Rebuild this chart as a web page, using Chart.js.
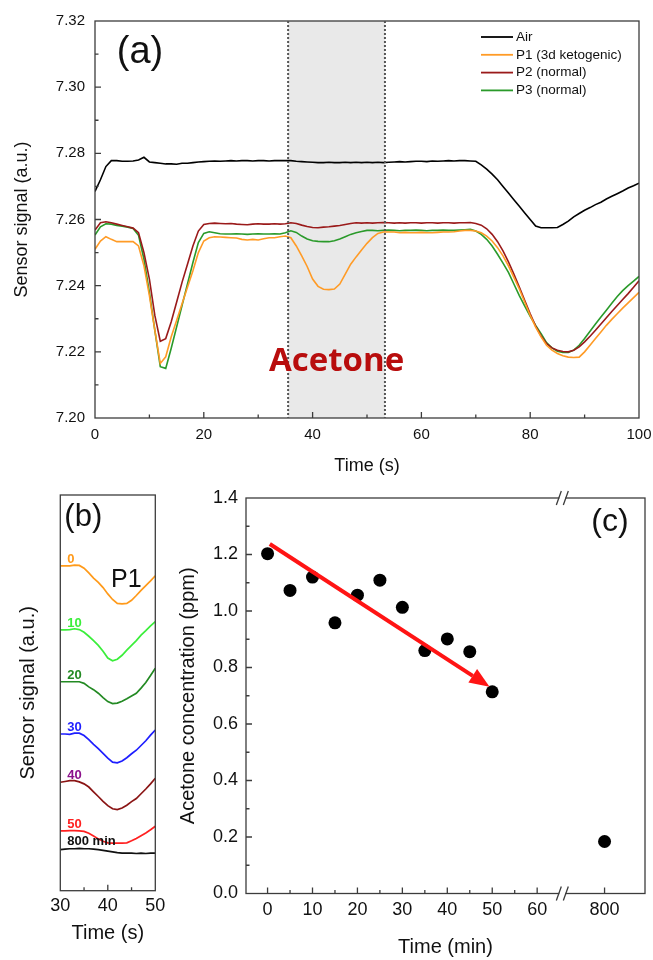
<!DOCTYPE html>
<html>
<head>
<meta charset="utf-8">
<script src="https://cdn.jsdelivr.net/npm/chart.js@4.4.0/dist/chart.umd.min.js"></script>
<style>
  body { margin: 0; background: #fff; }
  #wrap { position: relative; width: 653px; height: 960px; overflow: hidden; }
  canvas { position: absolute; }
  #chartA { left: 0; top: 0; }
  #chartB { left: 0; top: 470px; }
  #chartC { left: 170px; top: 470px; }
</style>
</head>
<body>
<div id="wrap">
  <canvas id="chartA" width="653" height="480"></canvas>
  <canvas id="chartB" width="170" height="490"></canvas>
  <canvas id="chartC" width="483" height="490"></canvas>
</div>
<script>
// ---- panel (a): sensor signal vs time ----
const aTime = [0,1,2,3,4,5,6,7,8,9,10,11,12,13,14,15,16,17,18,19,20,21,22,23,24,25,26,27,28,29,30,31,32,33,34,35,36,37,38,39,40,41,42,43,44,45,46,47,48,49,50,51,52,53,54,55,56,57,58,59,60,61,62,63,64,65,66,67,68,69,70,71,72,73,74,75,76,77,78,79,80,81,82,83,84,85,86,87,88,89,90,91,92,93,94,95,96,97,98,99,100];
const airSignal = [
  7.2685,7.2720,7.2760,7.2778,7.2778,7.2776,7.2776,7.2777,7.2780,7.2788,
  7.2774,7.2772,7.2770,7.2768,7.2768,7.2767,7.2770,7.2770,7.2772,7.2774,
  7.2775,7.2776,7.2777,7.2776,7.2777,7.2778,7.2777,7.2778,7.2778,7.2777,
  7.2778,7.2778,7.2777,7.2778,7.2778,7.2778,7.2778,7.2776,7.2775,7.2774,
  7.2773,7.2772,7.2772,7.2773,7.2772,7.2772,7.2773,7.2772,7.2773,7.2772,
  7.2773,7.2772,7.2773,7.2772,7.2773,7.2774,7.2775,7.2774,7.2775,7.2776,
  7.2776,7.2775,7.2777,7.2776,7.2777,7.2778,7.2777,7.2778,7.2778,7.2777,
  7.2776,7.2765,7.2752,7.2737,7.2720,7.2700,7.2680,7.2660,7.2640,7.2620,
  7.2600,7.2580,7.2575,7.2575,7.2575,7.2576,7.2585,7.2595,7.2608,7.2618,
  7.2628,7.2636,7.2645,7.2652,7.2662,7.2670,7.2678,7.2686,7.2695,7.2702,
  7.2710];
const p1Signal = [
  7.2510,7.2535,7.2548,7.2540,7.2533,7.2533,7.2533,7.2533,7.2520,7.2460,
  7.2370,7.2265,7.2165,7.2185,7.2245,7.2295,7.2345,7.2395,7.2445,7.2500,
  7.2535,7.2545,7.2548,7.2547,7.2546,7.2545,7.2544,7.2540,7.2538,7.2540,
  7.2538,7.2542,7.2545,7.2545,7.2548,7.2550,7.2545,7.2520,7.2490,7.2458,
  7.2420,7.2398,7.2389,7.2388,7.2390,7.2405,7.2435,7.2465,7.2487,7.2508,
  7.2528,7.2545,7.2558,7.2562,7.2562,7.2562,7.2560,7.2561,7.2560,7.2560,
  7.2561,7.2560,7.2560,7.2561,7.2562,7.2562,7.2563,7.2565,7.2567,7.2567,
  7.2565,7.2560,7.2550,7.2535,7.2515,7.2490,7.2460,7.2425,7.2390,7.2350,
  7.2310,7.2275,7.2245,7.2220,7.2205,7.2195,7.2188,7.2184,7.2183,7.2184,
  7.2200,7.2220,7.2240,7.2260,7.2280,7.2298,7.2315,7.2332,7.2348,7.2364,
  7.2380];
const p2Signal = [
  7.2568,7.2590,7.2593,7.2590,7.2586,7.2582,7.2578,7.2574,7.2560,7.2500,
  7.2420,7.2310,7.2232,7.2240,7.2290,7.2350,7.2410,7.2465,7.2520,7.2565,
  7.2585,7.2588,7.2589,7.2588,7.2587,7.2588,7.2586,7.2585,7.2584,7.2586,
  7.2587,7.2586,7.2586,7.2587,7.2586,7.2587,7.2590,7.2588,7.2583,7.2579,
  7.2576,7.2575,7.2577,7.2578,7.2580,7.2582,7.2585,7.2588,7.2590,7.2589,
  7.2590,7.2589,7.2590,7.2591,7.2590,7.2589,7.2590,7.2589,7.2590,7.2590,
  7.2589,7.2590,7.2590,7.2589,7.2590,7.2590,7.2589,7.2590,7.2590,7.2591,
  7.2588,7.2583,7.2572,7.2555,7.2533,7.2505,7.2472,7.2435,7.2396,7.2355,
  7.2315,7.2278,7.2248,7.2225,7.2212,7.2205,7.2201,7.2200,7.2205,7.2215,
  7.2230,7.2247,7.2265,7.2284,7.2303,7.2322,7.2340,7.2358,7.2376,7.2395,
  7.2415];
const p3Signal = [
  7.2553,7.2578,7.2587,7.2586,7.2582,7.2580,7.2577,7.2573,7.2552,7.2480,
  7.2380,7.2265,7.2155,7.2150,7.2210,7.2275,7.2340,7.2405,7.2470,7.2530,
  7.2558,7.2563,7.2560,7.2557,7.2556,7.2556,7.2557,7.2556,7.2555,7.2556,
  7.2557,7.2556,7.2556,7.2557,7.2556,7.2560,7.2566,7.2561,7.2550,7.2541,
  7.2536,7.2534,7.2533,7.2533,7.2536,7.2541,7.2548,7.2555,7.2560,7.2564,
  7.2567,7.2567,7.2566,7.2567,7.2568,7.2567,7.2566,7.2567,7.2567,7.2568,
  7.2567,7.2566,7.2567,7.2567,7.2568,7.2567,7.2567,7.2568,7.2569,7.2570,
  7.2565,7.2555,7.2540,7.2520,7.2495,7.2468,7.2440,7.2405,7.2370,7.2338,
  7.2307,7.2280,7.2255,7.2228,7.2212,7.2202,7.2198,7.2198,7.2205,7.2220,
  7.2240,7.2262,7.2284,7.2305,7.2326,7.2347,7.2367,7.2385,7.2400,7.2414,
  7.2428];
const aLabels = ['Air', 'P1 (3d ketogenic)', 'P2 (normal)', 'P3 (normal)'];
const aColors = ['#000000', '#ff9b26', '#9a1a1a', '#2a9a2a'];
const acetoneWindow = [35.5, 53.3];

// ---- panel (b): P1 response vs elapsed time (offset traces) ----
const bTime = [30,31,32,33,34,35,36,37,38,39,40,41,42,43,44,45,46,47,48,49,50];
const b0 = [82.1,82.1,82.1,82.3,82.2,81.5,80.3,79.0,77.9,76.6,75.0,73.6,72.6,72.5,72.6,73.4,74.6,75.9,77.1,78.3,79.6];
const b10 = [65.9,65.9,66.0,66.2,66.0,65.3,64.3,63.2,62.0,60.5,58.8,58.1,58.5,59.5,60.8,62.0,63.2,64.6,65.7,66.9,68.0];
const b20 = [52.8,52.8,52.8,52.8,52.8,52.4,51.5,50.8,49.9,48.8,47.8,47.3,47.4,47.9,48.5,49.2,49.9,51.2,52.6,54.4,56.2];
const b30 = [39.6,39.6,39.5,39.8,39.8,39.2,38.2,37.0,35.9,34.7,33.5,32.5,32.3,32.8,33.6,34.6,35.5,36.7,37.9,39.3,40.6];
const b40 = [27.4,27.6,27.8,27.8,27.5,27.0,26.2,25.0,23.8,22.6,21.5,20.7,20.5,20.9,21.6,22.5,23.3,24.5,25.7,27.0,28.4];
const b50 = [15.1,15.1,15.2,15.2,15.1,15.0,14.5,13.8,13.1,12.5,12.1,12.0,12.0,12.0,12.1,12.6,13.2,13.9,14.6,15.4,16.3];
const b800 = [10.4,10.5,10.6,10.6,10.7,10.6,10.6,10.5,10.4,10.2,10.0,9.8,9.6,9.5,9.5,9.5,9.4,9.5,9.4,9.5,9.5];
const bLabels = ['0', '10', '20', '30', '40', '50', '800 min'];
const bLineColors = ['#ff9a1a', '#3aee3a', '#238a23', '#1e1eff', '#8a1414', '#ff2020', '#111111'];
const bLabelColors = ['#ff9a1a', '#3aee3a', '#238a23', '#1e1eff', '#8b108b', '#ff2020', '#111111'];

// ---- panel (c): acetone concentration vs time ----
const cTime = [0, 5, 10, 15, 20, 25, 30, 35, 40, 45, 50, 800];
const cConc = [1.203, 1.073, 1.120, 0.958, 1.056, 1.109, 1.013, 0.860, 0.901, 0.856, 0.714, 0.184];
const cTickTimes = [0, 10, 20, 30, 40, 50, 60, 800];
const cTickLabels = ['0', '10', '20', '30', '40', '50', '60', '800'];
const cTrendStart = [0.5, 1.237];
const cTrendEnd = [49.4, 0.732];

Chart.defaults.font.family = "'Liberation Sans', Arial, sans-serif";
Chart.defaults.color = '#111';

// broken time axis: 800 min sits just after the break
const axisPos = t => t > 100 ? t - 725 : t;
const pts = (xs, ys) => xs.map((x, i) => ({ x: x, y: ys[i] }));

// fixed axis box sizes, no extra side padding for edge labels
const fixX = h => s => { s.height = h; s.paddingLeft = 0; s.paddingRight = 0; };
const fixY = w => s => { s.width = w; s.paddingTop = 0; s.paddingBottom = 0; };

function makeFrame(ticks, before, after) {
  return {
    id: 'frame',
    beforeDatasetsDraw(chart) {
      if (before) before(chart);
    },
    afterDatasetsDraw(chart) {
      const { ctx, chartArea: a, scales: { x, y } } = chart;
      ctx.save();
      ctx.strokeStyle = '#3c3c3c';
      ctx.lineWidth = 1.3;
      ctx.strokeRect(a.left, a.top, a.right - a.left, a.bottom - a.top);
      ctx.beginPath();
      (ticks.xMajor || []).forEach(v => { const p = x.getPixelForValue(v); ctx.moveTo(p, a.bottom); ctx.lineTo(p, a.bottom - 6); });
      (ticks.xMinor || []).forEach(v => { const p = x.getPixelForValue(v); ctx.moveTo(p, a.bottom); ctx.lineTo(p, a.bottom - 3.5); });
      (ticks.yMajor || []).forEach(v => { const p = y.getPixelForValue(v); ctx.moveTo(a.left, p); ctx.lineTo(a.left + 6, p); });
      (ticks.yMinor || []).forEach(v => { const p = y.getPixelForValue(v); ctx.moveTo(a.left, p); ctx.lineTo(a.left + 3.5, p); });
      ctx.stroke();
      ctx.restore();
      if (after) after(chart);
    }
  };
}

// ---------- chart (a) ----------
const frameA = makeFrame(
  { xMajor: [20, 40, 60, 80], xMinor: [10, 30, 50, 70, 90],
    yMajor: [7.22, 7.24, 7.26, 7.28, 7.30], yMinor: [7.21, 7.23, 7.25, 7.27, 7.29, 7.31] },
  chart => {
    const { ctx, chartArea: a, scales: { x } } = chart;
    const l = x.getPixelForValue(acetoneWindow[0]), r = x.getPixelForValue(acetoneWindow[1]);
    ctx.save();
    ctx.fillStyle = '#e9e9e9';
    ctx.fillRect(l, a.top, r - l, a.bottom - a.top);
    ctx.restore();
  },
  chart => {
    const { ctx, chartArea: a, scales: { x, y } } = chart;
    ctx.save();
    ctx.strokeStyle = '#555';
    ctx.lineWidth = 2;
    ctx.setLineDash([2, 2]);
    acetoneWindow.forEach(v => {
      const p = x.getPixelForValue(v);
      ctx.beginPath(); ctx.moveTo(p, a.top); ctx.lineTo(p, a.bottom); ctx.stroke();
    });
    ctx.setLineDash([]);
    ctx.fillStyle = '#b80d0d';
    ctx.font = "bold 33px 'Open Sans', sans-serif";
    ctx.textAlign = 'center';
    ctx.textBaseline = 'middle';
    ctx.fillText('Acetone', x.getPixelForValue(44.4), y.getPixelForValue(7.217));
    ctx.fillStyle = '#111';
    ctx.font = "38px 'Liberation Sans', Arial, sans-serif";
    ctx.fillText('(a)', a.left + 45, a.top + 32);
    // legend
    ctx.font = "13.5px 'Liberation Sans', Arial, sans-serif";
    ctx.textAlign = 'left';
    ctx.lineWidth = 1.8;
    chart.data.datasets.forEach((ds, i) => {
      const yy = a.top + 16 + i * 17.8;
      ctx.strokeStyle = ds.borderColor;
      ctx.beginPath(); ctx.moveTo(a.right - 158, yy); ctx.lineTo(a.right - 126, yy); ctx.stroke();
      ctx.fillText(ds.label, a.right - 123, yy);
    });
    ctx.restore();
  }
);

new Chart(document.getElementById('chartA'), {
  type: 'line',
  data: {
    datasets: [airSignal, p1Signal, p2Signal, p3Signal].map((s, i) => ({
      label: aLabels[i], data: pts(aTime, s), borderColor: aColors[i], borderWidth: 1.6
    }))
  },
  options: {
    responsive: false, animation: false,
    layout: { padding: { left: 0, top: 21, right: 14, bottom: 0 } },
    plugins: { legend: { display: false }, tooltip: { enabled: false } },
    elements: { point: { radius: 0 }, line: { tension: 0 } },
    scales: {
      x: {
        type: 'linear', min: 0, max: 100,
        grid: { display: false, drawTicks: false }, border: { display: false },
        ticks: { stepSize: 20, padding: 8, maxRotation: 0, font: { size: 15 } },
        title: { display: true, text: 'Time (s)', font: { size: 18 }, padding: { top: 0, bottom: 3 } },
        afterFit: fixX(62)
      },
      y: {
        min: 7.20, max: 7.32,
        grid: { display: false, drawTicks: false }, border: { display: false },
        ticks: { stepSize: 0.02, padding: 10, font: { size: 15 }, callback: v => v.toFixed(2) },
        title: { display: true, text: 'Sensor signal (a.u.)', font: { size: 18 }, padding: { top: 11, bottom: 0 } },
        afterFit: fixY(95)
      }
    }
  },
  plugins: [frameA]
});

// ---------- chart (b) ----------
const bSeries = [b0, b10, b20, b30, b40, b50, b800];
const frameB = makeFrame(
  { xMajor: [40], xMinor: [35, 45] },
  null,
  chart => {
    const { ctx, chartArea: a, scales: { y } } = chart;
    ctx.save();
    ctx.textAlign = 'left';
    ctx.textBaseline = 'alphabetic';
    ctx.font = "bold 13px 'Liberation Sans', Arial, sans-serif";
    bSeries.forEach((s, i) => {
      ctx.fillStyle = bLabelColors[i];
      ctx.fillText(bLabels[i], a.left + 7, y.getPixelForValue(s[0]) - (i === 6 ? 4.5 : 3));
    });
    ctx.fillStyle = '#111';
    ctx.textAlign = 'center';
    ctx.textBaseline = 'middle';
    ctx.font = "31px 'Liberation Sans', Arial, sans-serif";
    ctx.fillText('(b)', a.left + 23, a.top + 22);
    ctx.font = "25px 'Liberation Sans', Arial, sans-serif";
    ctx.fillText('P1', a.left + 66, a.top + 85);
    ctx.restore();
  }
);

new Chart(document.getElementById('chartB'), {
  type: 'line',
  data: {
    datasets: bSeries.map((s, i) => ({
      label: bLabels[i], data: pts(bTime, s), borderColor: bLineColors[i], borderWidth: 1.7
    }))
  },
  options: {
    responsive: false, animation: false,
    layout: { padding: { left: 0, top: 25, right: 14.7, bottom: 0 } },
    plugins: { legend: { display: false }, tooltip: { enabled: false } },
    elements: { point: { radius: 0 }, line: { tension: 0 } },
    scales: {
      x: {
        type: 'linear', min: 30, max: 50,
        grid: { display: false, drawTicks: false }, border: { display: false },
        ticks: { stepSize: 10, padding: 5, maxRotation: 0, font: { size: 18 } },
        title: { display: true, text: 'Time (s)', font: { size: 20 }, padding: { top: 0, bottom: 15 } },
        afterFit: fixX(69.3)
      },
      y: {
        min: 0, max: 100,
        grid: { display: false, drawTicks: false }, border: { display: false },
        ticks: { display: false },
        title: { display: true, text: 'Sensor signal (a.u.)', font: { size: 20 }, padding: { top: 16, bottom: 0 } },
        afterFit: fixY(60.3)
      }
    }
  },
  plugins: [frameB]
});

// ---------- chart (c) ----------
const cBreak = 65.6;
const frameC = makeFrame(
  { xMajor: cTickTimes.map(axisPos), xMinor: [5, 15, 25, 35, 45, 55],
    yMajor: [0.2, 0.4, 0.6, 0.8, 1.0, 1.2], yMinor: [0.1, 0.3, 0.5, 0.7, 0.9, 1.1, 1.3] },
  null,
  chart => {
    const { ctx, chartArea: a, scales: { x, y } } = chart;
    ctx.save();
    // axis break marks on top and bottom borders
    const bx = x.getPixelForValue(cBreak);
    [a.top, a.bottom].forEach(yy => {
      ctx.fillStyle = '#fff';
      ctx.fillRect(bx - 3, yy - 2, 6, 4);
      ctx.strokeStyle = '#3c3c3c';
      ctx.lineWidth = 1.3;
      ctx.beginPath();
      ctx.moveTo(bx - 6, yy + 7); ctx.lineTo(bx - 1, yy - 7);
      ctx.moveTo(bx + 1, yy + 7); ctx.lineTo(bx + 6, yy - 7);
      ctx.stroke();
    });
    // trend arrow
    const x0 = x.getPixelForValue(cTrendStart[0]), y0 = y.getPixelForValue(cTrendStart[1]);
    const x1 = x.getPixelForValue(cTrendEnd[0]), y1 = y.getPixelForValue(cTrendEnd[1]);
    const ang = Math.atan2(y1 - y0, x1 - x0), hl = 20, hw = 8;
    const hx = x1 - hl * Math.cos(ang), hy = y1 - hl * Math.sin(ang);
    ctx.strokeStyle = '#ff1414';
    ctx.fillStyle = '#ff1414';
    ctx.lineWidth = 4;
    ctx.beginPath(); ctx.moveTo(x0, y0); ctx.lineTo(hx, hy); ctx.stroke();
    ctx.beginPath();
    ctx.moveTo(x1, y1);
    ctx.lineTo(hx + hw * Math.sin(ang), hy - hw * Math.cos(ang));
    ctx.lineTo(hx - hw * Math.sin(ang), hy + hw * Math.cos(ang));
    ctx.closePath(); ctx.fill();
    ctx.fillStyle = '#111';
    ctx.textAlign = 'center';
    ctx.textBaseline = 'middle';
    ctx.font = "32px 'Liberation Sans', Arial, sans-serif";
    ctx.fillText('(c)', a.right - 35, a.top + 24);
    ctx.restore();
  }
);

new Chart(document.getElementById('chartC'), {
  type: 'scatter',
  data: {
    datasets: [{
      label: 'Acetone', data: pts(cTime.map(axisPos), cConc),
      backgroundColor: '#000', borderWidth: 0, pointRadius: 6.5
    }]
  },
  options: {
    responsive: false, animation: false,
    layout: { padding: { left: 0, top: 28, right: 8, bottom: 0 } },
    plugins: { legend: { display: false }, tooltip: { enabled: false } },
    scales: {
      x: {
        type: 'linear', min: -4.8, max: 84,
        grid: { display: false, drawTicks: false }, border: { display: false },
        afterBuildTicks: s => { s.ticks = cTickTimes.map(t => ({ value: axisPos(t) })); },
        ticks: { padding: 6, maxRotation: 0, autoSkip: false, font: { size: 18 }, callback: (v, i) => cTickLabels[i] },
        title: { display: true, text: 'Time (min)', font: { size: 20 }, padding: { top: 0, bottom: 1 } },
        afterFit: fixX(66.5)
      },
      y: {
        min: 0, max: 1.4,
        grid: { display: false, drawTicks: false }, border: { display: false },
        ticks: { stepSize: 0.2, padding: 8, font: { size: 18 }, callback: v => v.toFixed(1) },
        title: { display: true, text: 'Acetone concentration (ppm)', font: { size: 20 }, padding: { top: 6, bottom: 0 } },
        afterFit: fixY(76)
      }
    }
  },
  plugins: [frameC]
});
</script>
</body>
</html>
